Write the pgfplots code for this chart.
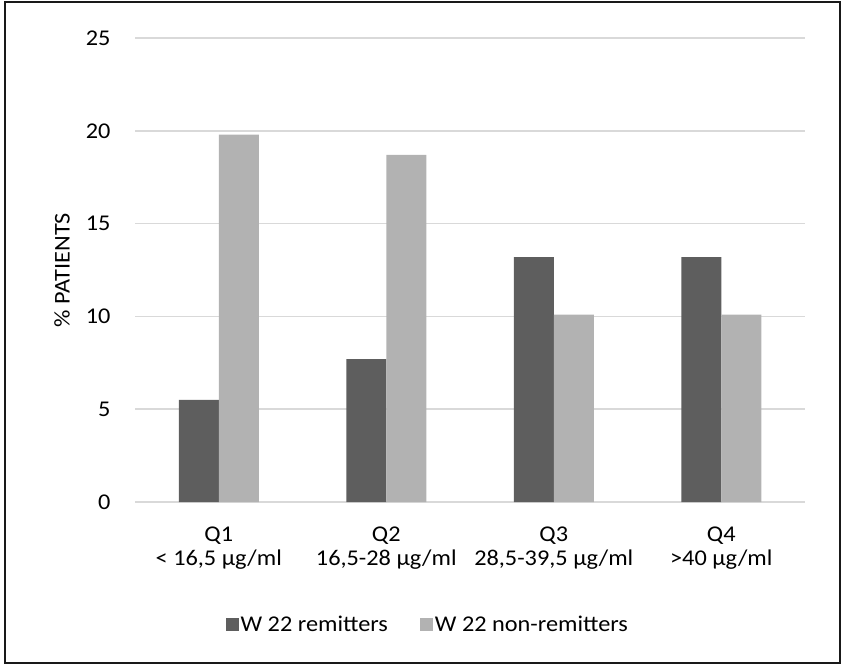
\documentclass[border=0pt]{standalone}
\usepackage{pgfplots}
\pgfplotsset{compat=1.18}
\usepackage{fontspec}
\setmainfont{Carlito}[FakeStretch=1.08]
\definecolor{darkbar}{RGB}{94,94,94}
\definecolor{lightbar}{RGB}{178,178,178}
\definecolor{gridc}{RGB}{217,217,217}
\newcommand{\chartfont}{\fontsize{22.5}{24}\selectfont}
\begin{document}
\begin{tikzpicture}[x=1pt,y=1pt]
\useasboundingbox (0,0) rectangle (843,665);
\draw[line width=2.5pt,black!90] (5,2) rectangle (840,663);
\begin{axis}[
  at={(135pt,163pt)}, anchor=south west,
  scale only axis, width=670pt, height=464pt,
  ybar=0pt, bar width=40pt,
  xmin=-0.5, xmax=3.5, ymin=0, ymax=25,
  xtick=data,
  xticklabels={{Q1\\< 16,5 µg/ml},{Q2\\16,5-28 µg/ml},{Q3\\28,5-39,5 µg/ml},{Q4\\>40 µg/ml}},
  ytick={0,5,...,25},
  axis line style={draw=none},
  major tick length=0pt,
  ymajorgrids, grid style={gridc, line width=1.5pt},
  /pgf/number format/assume math mode=true,
  tick label style={font=\chartfont},
  xticklabel style={align=center, anchor=north, yshift=-21pt},
  yticklabel style={anchor=east, xshift=-21pt},
  ylabel={\% PATIENTS},
  ylabel style={font=\chartfont, at={(axis description cs:-0.109,0.5)}, anchor=center},
  legend style={draw=none, font=\chartfont, at={(axis description cs:0.437,-0.265)}, anchor=center, legend columns=2,
    /tikz/every even column/.append style={column sep=30pt}},
  legend image code/.code={\fill[#1] (0pt,-6.5pt) rectangle (13pt,6.5pt);},
  every axis plot/.append style={draw=none},
]
\addplot[fill=darkbar] coordinates {(0,5.5) (1,7.7) (2,13.2) (3,13.2)};
\addplot[fill=lightbar] coordinates {(0,19.8) (1,18.7) (2,10.1) (3,10.1)};
\legend{W 22 remitters, W 22 non-remitters}
\end{axis}
\end{tikzpicture}
\end{document}
